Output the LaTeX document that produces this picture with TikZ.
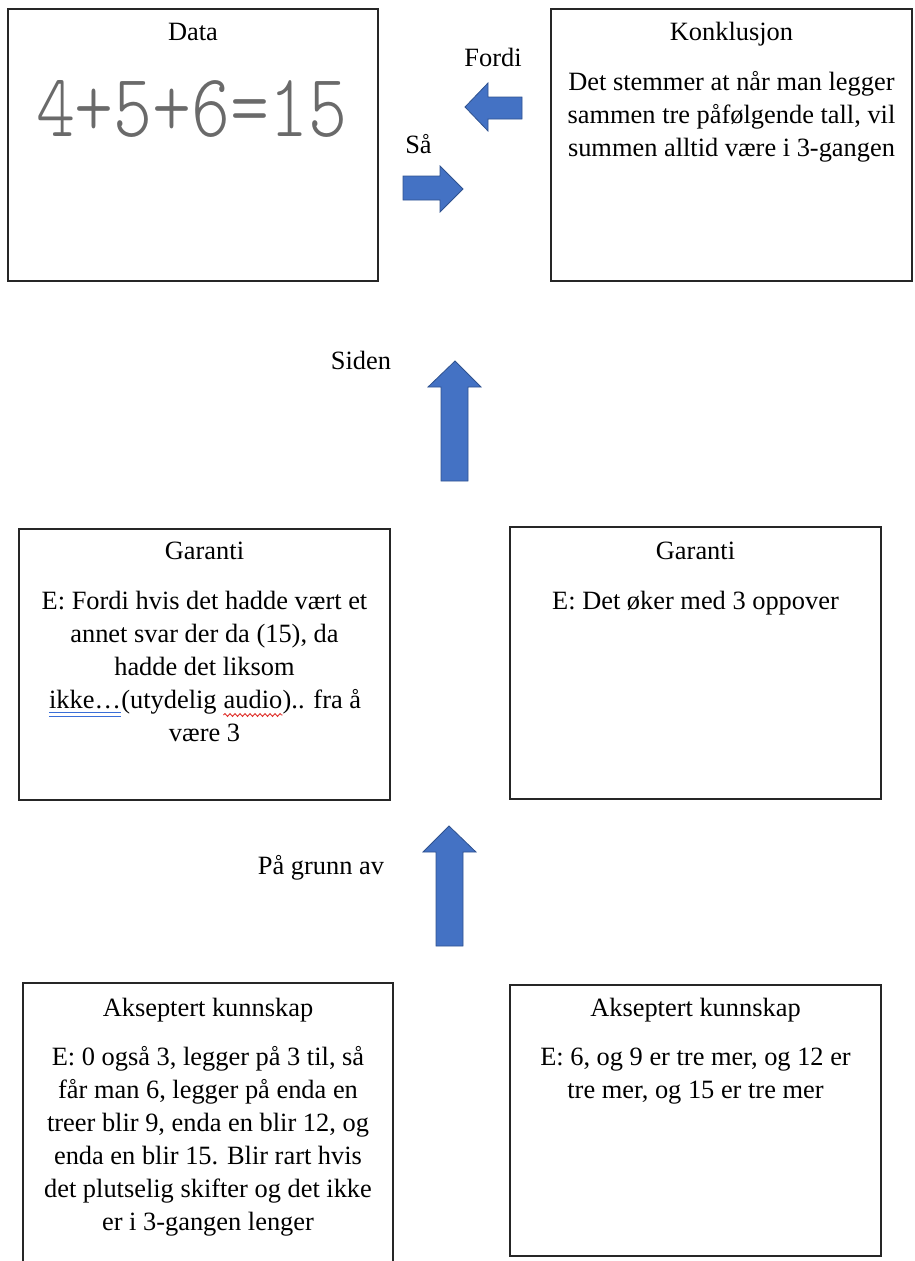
\documentclass[tikz,border=0pt]{standalone}
\usepackage{fontspec}
\setmainfont{Liberation Serif}
\usepackage{graphicx}
\usetikzlibrary{decorations.pathmorphing}
\definecolor{arrowblue}{HTML}{4472C4}
\definecolor{arrowedge}{HTML}{2F528F}
\definecolor{inkgray}{HTML}{6A6A6A}
\definecolor{spellred}{HTML}{E0302A}
\definecolor{grammarblue}{HTML}{3A6FD8}
\begin{document}
\begin{tikzpicture}[x=1pt,y=-1pt,
  panel/.style={draw=black!85, line width=1.4pt, inner sep=0pt},
  txt/.style={font=\fontsize{26.4}{33}\selectfont, inner sep=0pt, align=center, anchor=north},
  lbl/.style={font=\fontsize{26.4}{33}\selectfont, inner sep=0pt, anchor=base},
  blockarrow/.style={fill=arrowblue, draw=arrowedge, line width=0.8pt, line join=miter},
]
\useasboundingbox (0,0) rectangle (915,1261);

% panels
\node[panel, minimum width=370pt, minimum height=272pt] (data)  at (193,145) {};
\node[panel, minimum width=361pt, minimum height=272pt] (konkl) at (731.5,145) {};
\node[panel, minimum width=371pt, minimum height=271pt] (garL)  at (204.5,664.5) {};
\node[panel, minimum width=371pt, minimum height=272pt] (garR)  at (695.5,663) {};
\node[panel, minimum width=370pt, minimum height=287pt] (aksL)  at (208,1126.5) {};
\node[panel, minimum width=371pt, minimum height=271pt] (aksR)  at (695.5,1120.5) {};

% titles
\node[lbl] (dataT)  at (193,40.5)  {Data};
\node[lbl] (konklT) at (731.5,40.5) {Konklusjon};
\node[lbl] (garLT)  at (204.5,559) {Garanti};
\node[lbl] (garRT)  at (695.5,559) {Garanti};
\node[lbl] (aksLT)  at (208,1016)  {Akseptert kunnskap};
\node[lbl] (aksRT)  at (695.5,1016) {Akseptert kunnskap};

% handwritten data
\node[inner sep=0pt, text=inkgray] (hand) at (192,109)
  {\resizebox{312pt}{56pt}{\fontfamily{lmtt}\fontseries{l}\selectfont 4+5+6=15}};

% conclusion text
\node[txt] (konklB) at (731.5,67.4)
  {\strut Det stemmer at når man legger\\sammen tre påfølgende tall, vil\\summen alltid være i 3-gangen};

% warrant (left)
\node[txt] (garLB) at (204.5,585.9)
  {\strut E: Fordi hvis det hadde vært et\\annet svar der da (15), da\\hadde det liksom};
\node[lbl] (garL4) at (204.5,708) {\phantom{ikke…(utydelig audio).. fra å}};
\node[lbl, anchor=base west] (w1) at (garL4.base west) {ikke…};
\node[lbl, anchor=base west] (w2) at (w1.base east) {(utydelig};
\node[lbl, anchor=base west] (w3) at ([xshift=6.6pt]w2.base east) {audio};
\node[lbl, anchor=base west] (w4) at (w3.base east) {).. fra å};
\node[lbl] (garL5) at (204.5,741) {være 3};
\draw[grammarblue, line width=0.9pt] ([yshift=-4pt]w1.base west) -- ([yshift=-4pt]w1.base east);
\draw[grammarblue, line width=0.9pt] ([yshift=-8pt]w1.base west) -- ([yshift=-8pt]w1.base east);
\draw[spellred, line width=0.9pt, decorate, decoration={snake, amplitude=1.4pt, segment length=5pt}]
  ([yshift=-7pt]w3.base west) -- ([yshift=-7pt]w3.base east);

% warrant (right)
\node[lbl] (garRB) at (695.5,609) {E: Det øker med 3 oppover};

% backing (left and right)
\node[txt] (aksLB) at (208,1041.9)
  {\strut E: 0 også 3, legger på 3 til, så\\får man 6, legger på enda en\\treer blir 9, enda en blir 12, og\\enda en blir 15. Blir rart hvis\\det plutselig skifter og det ikke\\er i 3-gangen lenger};
\node[txt] (aksRB) at (695.5,1041.9)
  {\strut E: 6, og 9 er tre mer, og 12 er\\tre mer, og 15 er tre mer};

% block arrows
\filldraw[blockarrow] (465,107) -- (488,83) -- (488,97) -- (522,97) -- (522,119) -- (488,119) -- (488,131) -- cycle;
\filldraw[blockarrow] (463,189) -- (440,166) -- (440,176) -- (403,176) -- (403,200) -- (440,200) -- (440,212) -- cycle;
\filldraw[blockarrow] (455,361) -- (481,387) -- (468,387) -- (468,481) -- (441,481) -- (441,387) -- (428,387) -- cycle;
\filldraw[blockarrow] (449,826) -- (476,852) -- (463,852) -- (463,946) -- (436,946) -- (436,852) -- (423,852) -- cycle;

% arrow labels
\node[lbl] (fordi)  at (493,66)  {Fordi};
\node[lbl] (saa)    at (418.5,153) {Så};
\node[lbl] (siden)  at (361,369) {Siden};
\node[lbl] (grunn)  at (321,874) {På grunn av};
\end{tikzpicture}
\end{document}
